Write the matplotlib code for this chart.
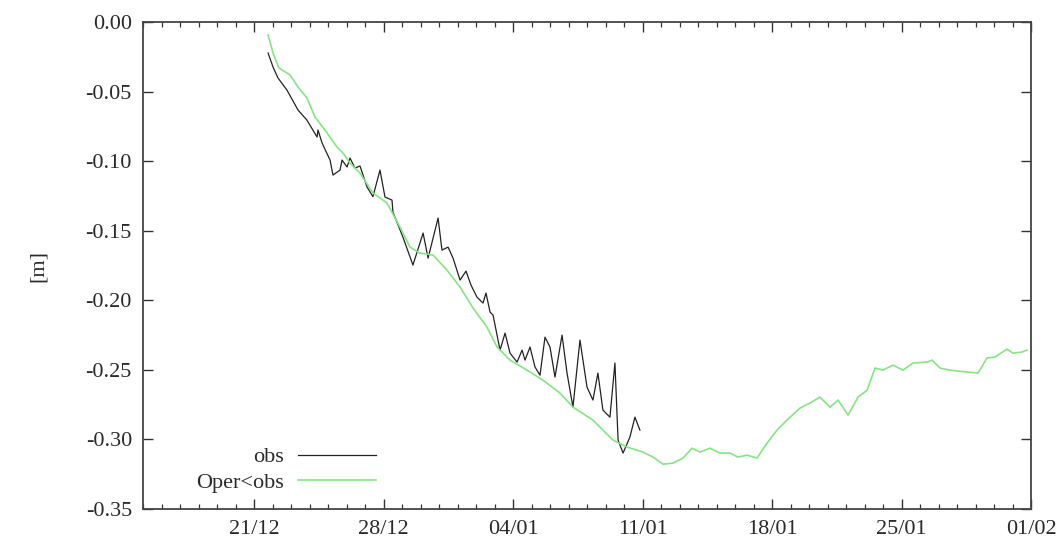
import numpy as np
import matplotlib
matplotlib.use("Agg")
import matplotlib.pyplot as plt
import matplotlib.dates as mdates

# ---- data (days since 2009-12-15, value in m) ----
obs_days = [6.76, 7.03, 7.30, 7.78, 8.38, 8.86, 9.41, 9.46, 9.68, 10.11, 10.27, 10.65,
            10.76, 11.03, 11.19, 11.46, 11.73, 12.11, 12.43, 12.81, 13.08, 13.46, 13.51,
            14.05, 14.59, 15.14, 15.41, 15.68, 15.95, 16.16, 16.49, 16.76, 17.14, 17.46,
            17.73, 18.05, 18.38, 18.54, 18.76, 18.92, 19.30, 19.57, 19.84, 20.22, 20.49,
            20.65, 20.92, 21.19, 21.46, 21.73, 22.00, 22.27, 22.65, 22.92, 23.24, 23.62,
            24.00, 24.32, 24.59, 24.86, 25.24, 25.51, 25.68, 25.95, 26.32, 26.59, 26.86]
obs_vals = [-0.0223, -0.0324, -0.0403, -0.0489, -0.0633, -0.0705, -0.0827, -0.0776,
            -0.0870, -0.0992, -0.1100, -0.1064, -0.0992, -0.1042, -0.0978, -0.1050,
            -0.1035, -0.1186, -0.1255, -0.1064, -0.1258, -0.1280, -0.1366, -0.1546,
            -0.1747, -0.1517, -0.1697, -0.1553, -0.1409, -0.1639, -0.1618, -0.1697,
            -0.1855, -0.1790, -0.1891, -0.1977, -0.2020, -0.1948, -0.2085, -0.2106,
            -0.2358, -0.2236, -0.2380, -0.2444, -0.2358, -0.2430, -0.2336, -0.2480,
            -0.2538, -0.2265, -0.2336, -0.2552, -0.2250, -0.2523, -0.2768, -0.2286,
            -0.2624, -0.2717, -0.2523, -0.2789, -0.2840, -0.2451, -0.3005, -0.3098,
            -0.2983, -0.2840, -0.2933]

oper_days = [6.76, 7.03, 7.35, 7.95, 8.38, 8.86, 9.30, 9.95, 10.49, 10.81, 11.19, 11.73,
             12.43, 13.19, 13.89, 14.43, 14.97, 15.68, 16.43, 17.14, 17.84, 18.59, 19.14,
             19.84, 20.76, 21.62, 22.54, 23.24, 24.32, 24.86, 25.41, 26.16, 27.03, 27.57,
             28.11, 28.65, 29.19, 29.68, 30.11, 30.65, 31.19, 31.73, 32.16, 32.65, 33.19,
             33.73, 34.27, 34.81, 35.51, 36.05, 36.59, 37.14, 37.57, 38.11, 38.65, 39.14,
             39.57, 40.00, 40.54, 41.08, 41.62, 42.38, 42.65, 43.08, 43.62, 44.54, 45.14,
             45.62, 46.05, 46.70, 47.03, 47.51, 47.78]
oper_vals = [-0.0093, -0.0223, -0.0331, -0.0381, -0.0467, -0.0546, -0.0683, -0.0798,
             -0.0899, -0.0942, -0.1014, -0.1086, -0.1229, -0.1301, -0.1474, -0.1618,
             -0.1661, -0.1675, -0.1783, -0.1905, -0.2056, -0.2193, -0.2336, -0.2430,
             -0.2502, -0.2574, -0.2667, -0.2768, -0.2861, -0.2933, -0.3005, -0.3055,
             -0.3091, -0.3127, -0.3178, -0.3170, -0.3134, -0.3063, -0.3091, -0.3063,
             -0.3098, -0.3098, -0.3127, -0.3113, -0.3134, -0.3027, -0.2933, -0.2861,
             -0.2775, -0.2739, -0.2696, -0.2768, -0.2717, -0.2825, -0.2696, -0.2646,
             -0.2487, -0.2502, -0.2466, -0.2502, -0.2451, -0.2444, -0.2430, -0.2487,
             -0.2502, -0.2516, -0.2523, -0.2415, -0.2408, -0.2351, -0.2380, -0.2372,
             -0.2358]

base_date = np.datetime64("2009-12-15T00:00")
x_start = "2009-12-15"
x_end = "2010-02-01"
y_ticks = [0.00, -0.05, -0.10, -0.15, -0.20, -0.25, -0.30, -0.35]
y_label = "[m]"
series_labels = ["obs", "Oper<obs"]


def to_dates(days):
    mins = np.round(np.asarray(days) * 24 * 60).astype("timedelta64[m]")
    return base_date + mins


plt.rcParams["font.family"] = ["Liberation Serif", "DejaVu Serif"]
FS = 16
TXT = "#2a2a2a"

fig = plt.figure(figsize=(10.62, 5.49), dpi=100)
ax = fig.add_axes([143 / 1062, 1 - 509 / 549, (1031 - 143) / 1062, (509 - 22) / 549])

ax.plot(to_dates(obs_days), obs_vals, color="#222222", lw=0.9, label=series_labels[0])
ax.plot(to_dates(oper_days), oper_vals, color="#86e486", lw=1.2, label=series_labels[1])

ax.set_xlim(np.datetime64(x_start), np.datetime64(x_end))
ax.set_ylim(y_ticks[-1], y_ticks[0])
ax.set_yticks(y_ticks)
ax.set_yticklabels([f"{v:.2f}" for v in y_ticks])

ax.xaxis.set_major_locator(mdates.WeekdayLocator(byweekday=mdates.MO))
ax.xaxis.set_minor_locator(mdates.DayLocator())
ax.xaxis.set_major_formatter(mdates.DateFormatter("%d/%m"))

ax.tick_params(axis="both", which="major", direction="in", length=7, width=1.0,
               top=True, right=True, labelsize=FS, colors="#333333")
ax.tick_params(axis="x", which="major", pad=8)
ax.tick_params(axis="y", which="major", pad=8)
ax.tick_params(axis="x", which="minor", direction="in", length=3.5, width=0.9,
               top=True, colors="#333333")
for lab in ax.get_xticklabels() + ax.get_yticklabels():
    lab.set_color(TXT)

for sp in ax.spines.values():
    sp.set_linewidth(1.3)
    sp.set_color("#444444")

ax.set_ylabel(y_label, fontsize=FS, color=TXT, labelpad=27)

leg = ax.legend(loc="lower right", bbox_to_anchor=((376 - 143) / 888, 0.033),
                markerfirst=False, frameon=False, fontsize=FS, handlelength=3.5,
                handletextpad=0.65, labelspacing=0.22, borderaxespad=0.0, borderpad=0.0)
for t in leg.get_texts():
    t.set_color(TXT)

fig.savefig("out.png", dpi=100)
